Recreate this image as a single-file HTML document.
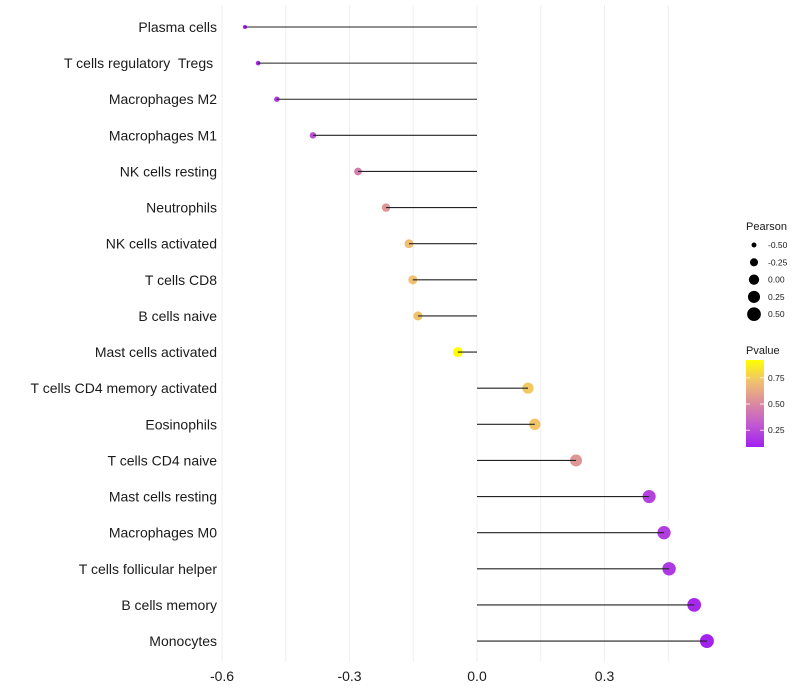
<!DOCTYPE html>
<html><head><meta charset="utf-8"><style>
body{margin:0;background:#fff;font-family:"Liberation Sans",sans-serif}
svg{display:block}
text{white-space:pre}
</style></head><body>
<svg id="chart" width="800" height="700"></svg>
<script>
const categories=["Plasma cells","T cells regulatory  Tregs ","Macrophages M2","Macrophages M1","NK cells resting","Neutrophils","NK cells activated","T cells CD8","B cells naive","Mast cells activated","T cells CD4 memory activated","Eosinophils","T cells CD4 naive","Mast cells resting","Macrophages M0","T cells follicular helper","B cells memory","Monocytes"];
const pearson=[-0.546,-0.515,-0.471,-0.386,-0.28,-0.214,-0.16,-0.151,-0.139,-0.045,0.12,0.136,0.233,0.405,0.44,0.452,0.511,0.541];
const pvalue=[0.09,0.12,0.17,0.27,0.45,0.55,0.7,0.71,0.72,0.92,0.74,0.73,0.55,0.22,0.2,0.18,0.12,0.1];
const xTicks=[-0.6,-0.3,0.0,0.3];
const xTickLabels=["-0.6","-0.3","0.0","0.3"];
const sizeBreaks=[-0.5,-0.25,0,0.25,0.5];
const sizeLabels=["-0.50","-0.25","0.00","0.25","0.50"];
const pBreaks=[0.25,0.5,0.75];
const pLabels=["0.25","0.50","0.75"];

const NS="http://www.w3.org/2000/svg";
const svg=document.getElementById('chart');
function el(t,a,p){const e=document.createElementNS(NS,t);for(const k in a)e.setAttribute(k,a[k]);(p||svg).appendChild(e);return e;}
const xs=v=>477+v*425;
const ys=i=>27+i*36.12;
const pMin=0.09,pMax=0.92;
const stops=[[0,[160,32,240]],[0.25,[192,88,210]],[0.5,[218,138,160]],[0.75,[240,192,112]],[1,[255,255,0]]];
function col(p){let t=(p-pMin)/(pMax-pMin);t=Math.max(0,Math.min(1,t));for(let i=1;i<stops.length;i++){if(t<=stops[i][0]){const a=stops[i-1],b=stops[i];const f=(t-a[0])/(b[0]-a[0]);const c=a[1].map((x,j)=>Math.round(x+(b[1][j]-x)*f));return `rgb(${c})`;}}return 'rgb(255,255,0)';}
const rs=v=>Math.sqrt(4+((v+0.55)/1.1)*45);

[-0.6,-0.45,-0.3,-0.15,0,0.15,0.3,0.45].forEach(v=>{
 const g=el('line',{x1:xs(v),x2:xs(v),y1:5,y2:662,stroke:'#efefef','stroke-width':1});
 
 
});
xTicks.forEach((v,i)=>{
 const t=el('text',{x:xs(v),y:681,'text-anchor':'middle','font-size':14,fill:'#1a1a1a'});
 t.textContent=xTickLabels[i];
 
 
});
categories.forEach((c,i)=>{
 const y=ys(i);
 const t=el('text',{x:217,y:y+5,'text-anchor':'end','font-size':14,fill:'#1a1a1a'});
 t.textContent=c;
 
 
 const d=el('circle',{cx:xs(pearson[i]),cy:y,r:rs(pearson[i]),fill:col(pvalue[i])});
 
 
 const l=el('line',{x1:xs(0),x2:xs(pearson[i]),y1:y,y2:y,stroke:'#222','stroke-width':1.1});
 
 
});
const st=el('text',{x:746,y:230,'font-size':11,fill:'#1a1a1a'});st.textContent='Pearson';


sizeBreaks.forEach((v,i)=>{
 const y=245+i*17.3;
 const c=el('circle',{cx:754,cy:y,r:rs(v),fill:'#000'});
 
 
 const t=el('text',{x:768,y:y+3,'font-size':8.5,fill:'#1a1a1a'});t.textContent=sizeLabels[i];
 
 
});
const pt=el('text',{x:746,y:354,'font-size':11,fill:'#1a1a1a'});pt.textContent='Pvalue';


const defs=el('defs',{});
const lg=el('linearGradient',{id:'pg',x1:0,y1:1,x2:0,y2:0},defs);
stops.forEach(s=>el('stop',{offset:s[0],'stop-color':`rgb(${s[1]})`},lg));
const bar=el('rect',{x:746,y:360,width:18,height:87,fill:'url(#pg)'});


pBreaks.forEach((v,i)=>{
 const y=447-(v-pMin)/(pMax-pMin)*87;
 el('line',{x1:746,x2:750,y1:y,y2:y,stroke:'#fff','stroke-width':0.8});
 el('line',{x1:760,x2:764,y1:y,y2:y,stroke:'#fff','stroke-width':0.8});
 const t=el('text',{x:768,y:y+3,'font-size':8.5,fill:'#1a1a1a'});t.textContent=pLabels[i];
 
 
});
</script>
</body></html>
